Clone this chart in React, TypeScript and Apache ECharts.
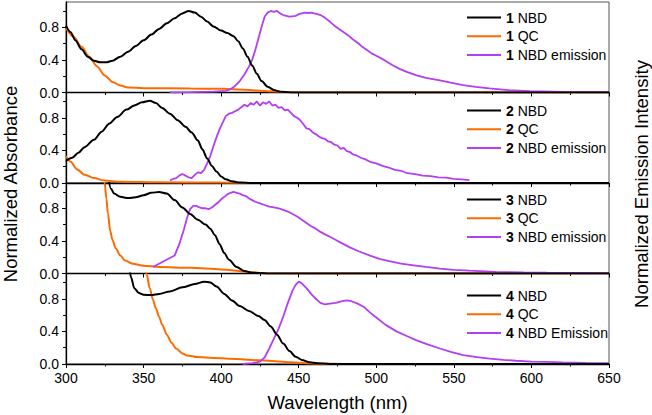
import React, { useEffect, useRef } from "react";
import * as echarts from "echarts";

type P = [number, number][];

// Panel 1
const nbd1: P = [[300,0.82],[303,0.74],[306,0.64],[310,0.53],[314,0.44],[318,0.39],[322,0.37],[326,0.37],[330,0.39],[335,0.44],[340,0.5],[345,0.57],[350,0.64],[355,0.71],[360,0.78],[365,0.85],[370,0.91],[375,0.97],[379,1.0],[383,0.98],[387,0.93],[391,0.87],[395,0.81],[400,0.76],[404,0.73],[408,0.69],[411,0.63],[414,0.54],[417,0.44],[420,0.33],[423,0.23],[426,0.14],[430,0.07],[434,0.03],[438,0.01],[445,0.0],[650,0.0]];
const qc1: P = [[300,0.79],[305,0.68],[310,0.56],[315,0.44],[320,0.32],[325,0.21],[330,0.13],[335,0.085],[340,0.062],[350,0.052],[380,0.05],[400,0.045],[410,0.038],[420,0.028],[430,0.016],[440,0.006],[450,0.0],[650,0.0]];
const em1: P = [[367,0.0],[380,0.004],[395,0.01],[403,0.02],[406,0.04],[409,0.08],[412,0.14],[415,0.22],[418,0.32],[420,0.4],[422,0.52],[424,0.66],[426,0.8],[428,0.93],[430,0.98],[432,1.0],[434,0.99],[436,1.0],[438,0.97],[440,0.95],[442,0.94],[444,0.93],[446,0.935],[448,0.94],[450,0.96],[452,0.97],[454,0.98],[456,0.975],[458,0.98],[460,0.97],[462,0.96],[464,0.95],[466,0.93],[468,0.9],[470,0.87],[473,0.82],[476,0.78],[479,0.74],[482,0.7],[485,0.65],[488,0.61],[491,0.56],[494,0.52],[497,0.48],[500,0.45],[505,0.4],[510,0.34],[515,0.29],[520,0.25],[526,0.21],[532,0.18],[541,0.15],[548,0.12],[556,0.09],[564,0.07],[573,0.05],[585,0.03],[599,0.016],[620,0.008],[650,0.004]];

// Panel 2
const nbd2: P = [[300,0.27],[304,0.31],[308,0.37],[312,0.44],[318,0.53],[323,0.63],[328,0.73],[333,0.81],[339,0.9],[344,0.95],[349,0.99],[354,1.01],[358,0.98],[362,0.92],[367,0.85],[372,0.77],[377,0.69],[381,0.62],[385,0.52],[388,0.41],[391,0.3],[394,0.21],[397,0.14],[400,0.08],[403,0.045],[407,0.02],[412,0.006],[420,0.0],[650,0.0]];
const qc2: P = [[300,0.33],[303,0.26],[307,0.17],[312,0.1],[318,0.06],[325,0.03],[335,0.016],[360,0.01],[400,0.005],[420,0.0],[650,0.0]];
const em2: P = [[367,0.03],[369,0.05],[371,0.06],[373,0.09],[375,0.11],[377,0.09],[379,0.07],[381,0.06],[383,0.1],[385,0.13],[387,0.12],[389,0.16],[391,0.24],[393,0.33],[395,0.45],[397,0.56],[399,0.66],[401,0.74],[403,0.82],[405,0.85],[407,0.86],[409,0.88],[411,0.9],[413,0.93],[415,0.96],[417,0.94],[419,0.98],[421,0.96],[423,1.0],[425,0.95],[427,0.99],[429,0.97],[431,1.0],[433,0.95],[435,0.96],[437,0.92],[439,0.93],[441,0.89],[443,0.9],[445,0.86],[447,0.82],[449,0.8],[451,0.77],[453,0.72],[455,0.67],[457,0.66],[459,0.62],[461,0.6],[463,0.57],[465,0.55],[467,0.54],[469,0.51],[471,0.5],[473,0.47],[475,0.46],[477,0.42],[479,0.43],[481,0.39],[483,0.38],[485,0.35],[487,0.34],[490,0.31],[493,0.29],[496,0.26],[500,0.24],[504,0.21],[508,0.19],[512,0.16],[516,0.15],[520,0.12],[525,0.11],[530,0.09],[535,0.085],[540,0.07],[545,0.065],[550,0.05],[555,0.045],[560,0.035]];

// Panel 3
const nbd3: P = [[327,1.2],[329,1.04],[331,0.98],[335,0.94],[340,0.925],[345,0.935],[350,0.96],[355,0.99],[360,1.0],[365,0.98],[370,0.9],[375,0.81],[380,0.73],[385,0.66],[390,0.6],[393,0.55],[396,0.47],[399,0.36],[402,0.25],[405,0.17],[410,0.08],[415,0.03],[420,0.01],[430,0.0],[650,0.0]];
const qc3: P = [[324,1.2],[325,1.1],[326,0.92],[327,0.74],[328.5,0.52],[330,0.41],[332,0.31],[335,0.22],[338,0.16],[343,0.12],[350,0.095],[360,0.08],[380,0.07],[400,0.05],[420,0.015],[430,0.0],[650,0.0]];
const em3: P = [[356,0.08],[370,0.22],[373,0.36],[376,0.54],[378,0.68],[380,0.79],[382,0.83],[384,0.83],[386,0.81],[388,0.8],[390,0.8],[392,0.79],[394,0.81],[396,0.84],[398,0.87],[400,0.91],[402,0.94],[404,0.97],[406,0.99],[408,1.0],[410,0.99],[412,0.98],[414,0.96],[416,0.95],[418,0.92],[420,0.9],[422,0.88],[425,0.86],[428,0.84],[431,0.82],[434,0.81],[437,0.8],[440,0.78],[443,0.76],[446,0.73],[449,0.7],[452,0.66],[455,0.62],[458,0.58],[461,0.55],[464,0.51],[467,0.48],[470,0.45],[474,0.41],[478,0.37],[483,0.32],[489,0.27],[496,0.22],[502,0.18],[509,0.15],[516,0.12],[524,0.1],[532,0.08],[541,0.06],[550,0.045],[560,0.035],[577,0.02],[595,0.013],[610,0.01],[650,0.005]];

// Panel 4
const nbd4: P = [[341,1.15],[342,1.06],[344,0.93],[347,0.87],[350,0.85],[355,0.845],[360,0.86],[367,0.89],[375,0.94],[383,0.98],[389,1.01],[393,1.0],[397,0.95],[402,0.86],[407,0.78],[412,0.71],[418,0.65],[424,0.59],[428,0.54],[432,0.46],[436,0.36],[440,0.25],[444,0.16],[448,0.09],[452,0.05],[457,0.02],[462,0.01],[470,0.0],[650,0.0]];
const qc4: P = [[351,1.2],[352,1.1],[354,0.93],[356,0.79],[358,0.68],[360,0.58],[362,0.48],[365,0.36],[368,0.26],[371,0.19],[375,0.13],[378,0.105],[385,0.085],[395,0.075],[405,0.065],[415,0.055],[425,0.045],[435,0.035],[445,0.022],[455,0.01],[465,0.004],[480,0.0],[650,0.0]];
const em4: P = [[414,0.0],[420,0.01],[425,0.03],[428,0.08],[431,0.19],[434,0.31],[437,0.43],[440,0.58],[443,0.75],[446,0.9],[448,0.97],[450,1.01],[452,0.99],[455,0.93],[458,0.86],[461,0.8],[464,0.75],[467,0.73],[470,0.74],[474,0.75],[478,0.77],[481,0.78],[484,0.77],[488,0.74],[492,0.7],[496,0.63],[500,0.57],[506,0.48],[513,0.4],[520,0.34],[526,0.29],[533,0.24],[541,0.19],[548,0.15],[556,0.11],[565,0.085],[573,0.065],[582,0.05],[590,0.04],[600,0.03],[610,0.025],[620,0.02],[635,0.013],[650,0.01]];

const panels = [
  { id: "1", data: [nbd1, qc1, em1], names: ["1 NBD", "1 QC", "1 NBD emission"], legendTop: 4.5 },
  { id: "2", data: [nbd2, qc2, em2], names: ["2 NBD", "2 QC", "2 NBD emission"], legendTop: 97.5 },
  { id: "3", data: [nbd3, qc3, em3], names: ["3 NBD", "3 QC", "3 NBD emission"], legendTop: 186.5 },
  { id: "4", data: [nbd4, qc4, em4], names: ["4 NBD", "4 QC", "4 NBD Emission"], legendTop: 282.5 },
];

const majorY = [0, 0.4, 0.8];
const minorY = [0.2, 0.6, 1.0];
const colors = ["#000000", "#ff6a00", "#b33ef2"];
const FONT = 'Arial, "Liberation Sans", sans-serif';

export default function App() {
  const ref = useRef<HTMLDivElement>(null);
  useEffect(() => {
    if (!ref.current) return;
    const chart = echarts.init(ref.current, undefined, { renderer: "svg" });
    const grids: any[] = [];
    const xAxes: any[] = [];
    const yAxes: any[] = [];
    const series: any[] = [];
    const legends: any[] = [];
    const top0 = 2;
    const h = 90.5;
    panels.forEach((p, i) => {
      grids.push({ left: 66, right: 43, top: top0 + i * h, height: h, show: true, borderColor: "#555", borderWidth: 1 });
      xAxes.push({
        type: "value", gridIndex: i, min: 300, max: 650, interval: 50,
        axisLine: { show: true, lineStyle: { color: "#000", width: 1.3 } },
        axisTick: { show: true, length: 4, lineStyle: { color: "#000" } },
        minorTick: { show: true, splitNumber: 2, length: 2.5, lineStyle: { color: "#000" } },
        axisLabel: { show: i === 3, color: "#000", fontSize: 14, fontFamily: FONT, margin: 7 },
        splitLine: { show: false },
      });
      yAxes.push({
        type: "value", gridIndex: i, min: 0, max: 1.11, position: "left",
        axisLine: { show: true, lineStyle: { color: "#000", width: 1.3 } },
        axisTick: { show: true, length: 4, customValues: majorY, lineStyle: { color: "#000" } },
        axisLabel: { show: true, customValues: majorY, formatter: (v: number) => v.toFixed(1), color: "#000", fontSize: 14, fontFamily: FONT, margin: 7 },
        splitLine: { show: false },
      });
      yAxes.push({
        type: "value", gridIndex: i, min: 0, max: 1.11, position: "left",
        axisLine: { show: false },
        axisTick: { show: true, length: 3, customValues: minorY, lineStyle: { color: "#000" } },
        axisLabel: { show: false },
        splitLine: { show: false },
      });
      p.data.forEach((d, k) => {
        series.push({
          type: "line", name: p.names[k], xAxisIndex: i, yAxisIndex: i * 2,
          data: d, showSymbol: false, symbol: "none", color: colors[k],
          smooth: k === 2 ? false : 0.3, smoothMonotone: "x",
          lineStyle: { width: k === 2 ? 1.8 : 2, color: colors[k] },
          z: k === 2 ? 3 : k === 0 ? 4 : 2,
        });
      });
      legends.push({
        data: p.names, orient: "vertical", left: 462, top: p.legendTop,
        icon: "rect", itemWidth: 34, itemHeight: 2, itemGap: 2.7,
        formatter: (n: string) => n.replace(/^(\d) /, "{b|$1} "),
        textStyle: {
          color: "#000", fontSize: 14, fontFamily: FONT, lineHeight: 16,
          rich: { b: { fontWeight: "bold", fontSize: 14, fontFamily: FONT, color: "#000", lineHeight: 16 } },
        },
      });
    });
    chart.setOption({
      animation: false,
      backgroundColor: "#fff",
      grid: grids, xAxis: xAxes, yAxis: yAxes, series, legend: legends,
      graphic: [
        { type: "text", x: 10, y: 184, rotation: Math.PI / 2, style: { text: "Normalized Absorbance", font: `18.5px ${FONT}`, fill: "#000", textAlign: "center", textVerticalAlign: "middle" } },
        { type: "text", x: 641, y: 184, rotation: Math.PI / 2, style: { text: "Normalized Emission Intensity", font: `18.5px ${FONT}`, fill: "#000", textAlign: "center", textVerticalAlign: "middle" } },
        { type: "text", x: 337.5, y: 402, style: { text: "Wavelength (nm)", font: `18.5px ${FONT}`, fill: "#000", textAlign: "center", textVerticalAlign: "middle" } },
      ],
    });
    return () => chart.dispose();
  }, []);
  return <div ref={ref} style={{ width: 652, height: 415, position: "absolute", left: 0, top: 0 }} />;
}
